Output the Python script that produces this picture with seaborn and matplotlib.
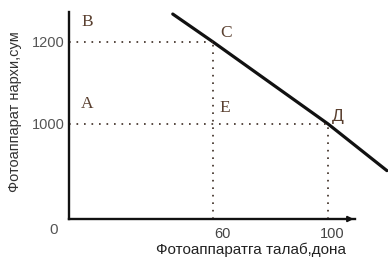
import matplotlib
matplotlib.use("Agg")
import matplotlib.pyplot as plt
import matplotlib.transforms as mtransforms
import seaborn as sns
import pandas as pd

# Data
demand_q = [46, 60, 100, 120.5]
demand_p = [1268, 1200, 1000, 886]
x_ticks = [60, 100]
x_tick_labels = ["60", "100"]
y_ticks = [1000, 1200]
y_tick_labels = ["1000", "1200"]
point_labels = ["B", "A", "C", "E", "Д"]
point_q = [16.2, 16.2, 64.5, 64.2, 103.5]
point_p = [1249, 1049, 1222, 1039, 1019]

sns.set_theme(style="white")
plt.rcParams["font.family"] = ["Liberation Sans", "DejaVu Sans"]

fig = plt.figure(figsize=(3.88, 2.61), dpi=100)
ax = fig.add_axes([69/388, 42/261, (355-69)/388, (219-12)/261])

df = pd.DataFrame({"q": demand_q, "p": demand_p})
sns.lineplot(data=df, x="q", y="p", ax=ax, color="#111111", lw=2.3, clip_on=False)

ax.set_xlim(9.9, 109.4)
ax.set_ylim(768, 1273)

dot = dict(color="#3a2a20", lw=1.2, ls=(0, (1, 3.5)))
for q, p in [(60, 1200), (100, 1000)]:
    ax.plot([9.9, q], [p, p], **dot)
    ax.plot([q, q], [768, p], **dot)

for s in ["top", "right"]:
    ax.spines[s].set_visible(False)
for s in ["left", "bottom"]:
    ax.spines[s].set_color("#111111")
    ax.spines[s].set_linewidth(1.7)

ax.set_xticks(x_ticks)
ax.set_xticklabels(x_tick_labels, fontsize=10.5, color="#444444")
ax.set_yticks(y_ticks)
ax.set_yticklabels(y_tick_labels, fontsize=10.5, color="#555555")
ax.tick_params(axis="x", length=0, pad=6)
ax.tick_params(axis="y", length=0, pad=3)
for lbl, dx in zip(ax.get_xticklabels(), [9, 4]):
    lbl.set_transform(lbl.get_transform() + mtransforms.ScaledTranslation(dx/100, 0, fig.dpi_scale_trans))

ax.set_xlabel("Фотоаппаратга талаб,дона", fontsize=11, color="#222222")
ax.xaxis.label.set_va("center")
ax.xaxis.set_label_coords(0.636, -0.15)
ax.set_ylabel("Фотоаппарат нархи,сум", fontsize=10.5, color="#333333")
ax.yaxis.label.set_va("center")
ax.yaxis.set_label_coords(-0.189, 0.52)

fig.text(54/388, 1 - 230/261, "0", fontsize=11, color="#555555", ha="center", va="center")

for lab, q, p in zip(point_labels, point_q, point_p):
    fam = ["Liberation Serif"] if lab != "Д" else ["Liberation Sans"]
    ax.text(q, p, lab, fontsize=12.5, color="#5a4030", family=fam, ha="center", va="center")

ax.annotate("", xy=(1.005, 0), xytext=(0.96, 0), xycoords="axes fraction",
            arrowprops=dict(arrowstyle="-|>", color="#111111", lw=1.4, mutation_scale=8))

fig.savefig("out.png", dpi=100, facecolor="white")
